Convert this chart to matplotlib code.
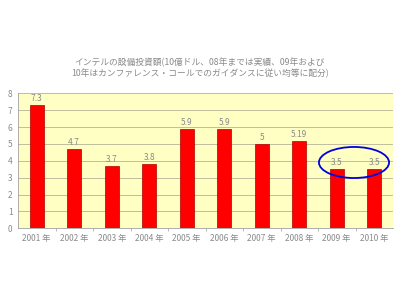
import matplotlib
matplotlib.use("Agg")
import matplotlib.pyplot as plt
from matplotlib.patches import Ellipse

plt.rcParams["font.family"] = ["Noto Sans CJK JP", "DejaVu Sans"]

years = ["2001 年", "2002 年", "2003 年", "2004 年", "2005 年",
         "2006 年", "2007 年", "2008 年", "2009 年", "2010 年"]
capex = [7.3, 4.7, 3.7, 3.8, 5.9, 5.9, 5.0, 5.19, 3.5, 3.5]
value_labels = ["7.3", "4.7", "3.7", "3.8", "5.9", "5.9", "5", "5.19", "3.5", "3.5"]
y_ticks = [0, 1, 2, 3, 4, 5, 6, 7, 8]

title = ("インテルの設備投資額(10億ドル、08年までは実績、09年および\n"
         "10年はカンファレンス・コールでのガイダンスに従い均等に配分)")

text_color = "#8a8a8a"

figure = plt.figure(figsize=(4, 3), dpi=100)
axis = figure.add_axes([0.045, 0.239, 0.9375, 0.45])
axis.set_facecolor("#FFFFC4")

positions = list(range(len(years)))
axis.bar(positions, capex, width=0.38, color="#FF0000",
         edgecolor="#B00000", linewidth=0.5, zorder=3)

for position, value, label in zip(positions, capex, value_labels):
    axis.text(position, value + 0.12, label, ha="center", va="bottom",
              fontsize=6, color=text_color)

axis.set_xlim(-0.5, len(years) - 0.5)
axis.set_ylim(0, 8)
axis.set_yticks(y_ticks)
axis.set_xticks(positions)
axis.set_xticklabels(years)
axis.set_xticks([p + 0.5 for p in positions[:-1]], minor=True)
axis.tick_params(axis="both", labelsize=6, colors=text_color, length=0, pad=4)
axis.tick_params(axis="x", which="minor", length=2, color="#B0B0B0")
axis.grid(axis="y", color="#B4B498", linewidth=0.6, zorder=0)
for side in ["top", "right"]:
    axis.spines[side].set_visible(False)
for side in ["left", "bottom"]:
    axis.spines[side].set_color("#A0A0A0")
    axis.spines[side].set_linewidth(0.6)

# highlight the guidance years
axis.add_patch(Ellipse((8.46, 3.9), 1.87, 1.84, fill=False,
                       edgecolor="#0000E0", linewidth=1.3, zorder=4,
                       clip_on=False))

figure.text(0.5, 0.775, title, ha="center", va="center",
            fontsize=6.3, color=text_color, linespacing=1.2)

figure.savefig("out.png", dpi=100)
